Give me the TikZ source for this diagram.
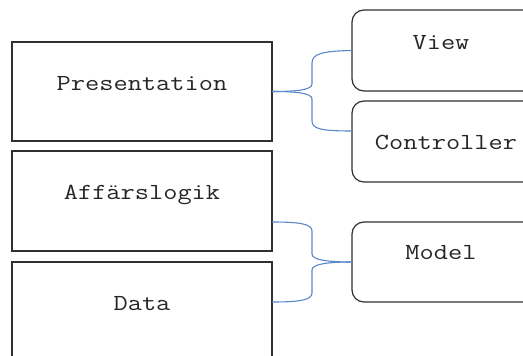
\documentclass[tikz,border=0pt]{standalone}
\usepackage{fontspec}
\newfontfamily\boxfont{Latin Modern Mono}[FakeStretch=1.2]
\definecolor{boxgray}{HTML}{303030}
\definecolor{braceblue}{HTML}{5A88C8}

\begin{document}
\begin{tikzpicture}[x=1pt,y=-1pt,
  layer/.style={draw=boxgray, line width=1.2pt, minimum width=260pt,
                inner sep=0pt, outer sep=0pt},
  part/.style={draw=boxgray, line width=1.2pt, rounded corners=12pt,
               minimum width=190pt, inner sep=0pt, outer sep=0pt},
  lbl/.style={font=\boxfont\fontsize{23}{28}\selectfont, anchor=base,
              inner sep=0pt, text=black!85},
  brace/.style={draw=braceblue, line width=1.1pt}]
  \clip (0,0) rectangle (523,356);
  \fill[white] (0,0) rectangle (523,356);

  % three layers on the left
  \node[layer, minimum height=99pt]  (pres) at (142,91.5) {};
  \node[layer, minimum height=100pt] (aff)  at (142,201)  {};
  \node[layer, minimum height=116pt] (data) at (142,320)  {};
  \node[lbl] (presT) at (142,90)  {Presentation};
  \node[lbl] (affT)  at (142,199) {Affärslogik};
  \node[lbl] (dataT) at (142,310) {Data};

  % MVC parts on the right
  \node[part, minimum height=81pt] (view)  at (447,50.5)  {};
  \node[part, minimum height=81pt] (ctrl)  at (447,141.5) {};
  \node[part, minimum height=80pt] (model) at (447,262)   {};
  \node[lbl] (viewT)  at (441,49)  {View};
  \node[lbl] (ctrlT)  at (446,149) {Controller};
  \node[lbl] (modelT) at (441,259) {Model};

  % brace: presentation -> view / controller
  \draw[brace] (pres.east) .. controls (296,91.5) and (312,90) .. (312,84)
    -- (312,63) .. controls (312,54) and (322,51) .. (view.west);
  \draw[brace] (pres.east) .. controls (296,91.5) and (312,93) .. (312,99)
    -- (312,121) .. controls (312,129) and (322,131) .. ([yshift=10.5pt]ctrl.west);

  % brace: business logic / data -> model
  \draw[brace] ([yshift=-21pt]aff.east) .. controls (300,222) and (312,224) .. (312,231)
    -- (312,254) .. controls (312,260) and (328,262) .. (model.west);
  \draw[brace] ([yshift=-40pt]data.north east) .. controls (300,302) and (312,300) .. (312,293)
    -- (312,270) .. controls (312,264) and (328,262) .. (model.west);
\end{tikzpicture}
\end{document}
